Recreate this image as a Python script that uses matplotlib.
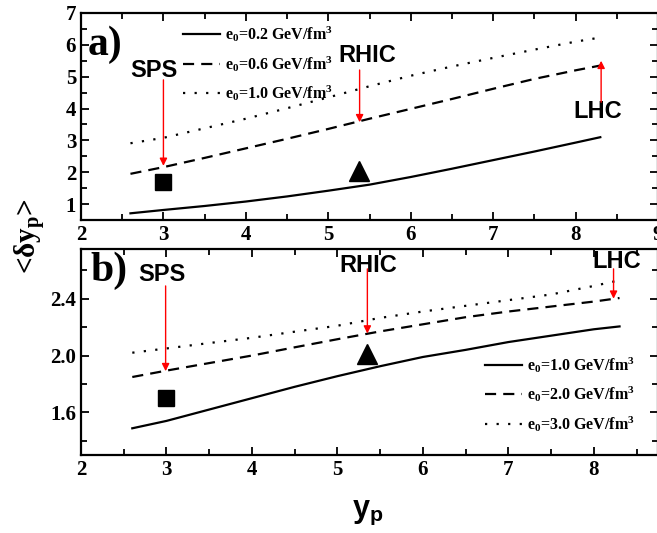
import matplotlib
matplotlib.use("Agg")
import matplotlib.pyplot as plt
from matplotlib.ticker import MultipleLocator, FormatStrFormatter

plt.rcParams['mathtext.fontset'] = 'custom'
plt.rcParams['mathtext.rm'] = 'Liberation Serif:bold'
plt.rcParams['mathtext.it'] = 'Liberation Serif:bold'
plt.rcParams['mathtext.bf'] = 'Liberation Serif:bold'
plt.rcParams['mathtext.sf'] = 'Liberation Sans:bold'

# ---------------- data: panel a ----------------
xa = [2.6, 3.0, 3.5, 4.0, 4.5, 5.0, 5.5, 6.0, 6.5, 7.0, 7.5, 8.0, 8.3]
a_e02 = [0.71, 0.815, 0.94, 1.08, 1.24, 1.42, 1.61, 1.85, 2.11, 2.38, 2.65, 2.93, 3.10]
a_e06 = [1.95, 2.16, 2.45, 2.75, 3.05, 3.36, 3.68, 3.99, 4.30, 4.62, 4.93, 5.20, 5.35]
a_e10 = [2.91, 3.08, 3.38, 3.68, 4.01, 4.35, 4.70, 5.03, 5.32, 5.59, 5.85, 6.10, 6.23]
a_labels = ['e$_\\mathrm{0}$=0.2 GeV/fm$^\\mathrm{3}$',
            'e$_\\mathrm{0}$=0.6 GeV/fm$^\\mathrm{3}$',
            'e$_\\mathrm{0}$=1.0 GeV/fm$^\\mathrm{3}$']
a_sq = (3.0, 1.70)
a_tri = (5.37, 2.03)

# ---------------- data: panel b ----------------
xb = [2.6, 3.0, 3.5, 4.0, 4.5, 5.0, 5.5, 6.0, 6.5, 7.0, 7.5, 8.0, 8.3]
b_e1 = [1.488, 1.54, 1.62, 1.70, 1.78, 1.855, 1.925, 1.99, 2.04, 2.095, 2.14, 2.185, 2.205]
b_e2 = [1.849, 1.894, 1.947, 2.0, 2.058, 2.115, 2.17, 2.22, 2.27, 2.31, 2.345, 2.38, 2.405]
b_e3 = [2.02, 2.05, 2.088, 2.125, 2.168, 2.21, 2.265, 2.31, 2.35, 2.39, 2.43, 2.49, 2.53]
b_labels = ['e$_\\mathrm{0}$=1.0 GeV/fm$^\\mathrm{3}$',
            'e$_\\mathrm{0}$=2.0 GeV/fm$^\\mathrm{3}$',
            'e$_\\mathrm{0}$=3.0 GeV/fm$^\\mathrm{3}$']
b_sq = (3.0, 1.70)
b_tri = (5.35, 2.01)

# annotations: (label, text x, text y, arrow x, arrow y0, arrow y1)
a_ann = [('SPS', 2.89, 5.20, 3.0, 4.9, 2.2),
         ('RHIC', 5.47, 5.67, 5.38, 5.21, 3.57),
         ('LHC', 8.27, 3.91, 8.31, 4.2, 5.5)]
b_ann = [('SPS', 2.95, 2.573, 2.99, 2.49, 1.89),
         ('RHIC', 5.36, 2.637, 5.35, 2.61, 2.155),
         ('LHC', 8.27, 2.665, 8.23, 2.61, 2.40)]

W, H = 657, 533
fig = plt.figure(figsize=(W / 100, H / 100), dpi=100)
axa = fig.add_axes([81 / W, 1 - 220 / H, 577 / W, 207 / H])
axb = fig.add_axes([81 / W, 1 - 455 / H, 577 / W, 206 / H])

lw = 1.6
dash = (0, (5, 3.2))
dot = (0, (1, 4.2))


def style(ax):
    for s in ax.spines.values():
        s.set_linewidth(1.6)
    ax.tick_params(which='both', direction='in', top=True, right=True,
                   width=1.3, labelsize=15)
    ax.tick_params(which='major', length=6)
    ax.tick_params(which='minor', length=4)


# ---------- panel a ----------
axa.plot(xa, a_e02, color='black', lw=lw, label=a_labels[0])
axa.plot(xa, a_e06, color='black', lw=lw, linestyle=dash, label=a_labels[1])
axa.plot(xa, a_e10, color='black', lw=lw, linestyle=dot, label=a_labels[2])
axa.plot([a_sq[0]], [a_sq[1]], 's', color='black', ms=11)
axa.plot([a_tri[0]], [a_tri[1]], '^', color='black', ms=14)
axa.set_xlim(2, 9)
axa.set_ylim(0.5, 7)
axa.xaxis.set_major_locator(MultipleLocator(1))
axa.xaxis.set_minor_locator(MultipleLocator(0.5))
axa.yaxis.set_major_locator(MultipleLocator(1))
axa.yaxis.set_minor_locator(MultipleLocator(0.5))
style(axa)
axa.text(2.29, 6.0, 'a)', fontfamily='Liberation Serif', fontweight='bold',
         fontsize=30, ha='center', va='center')
axa.legend(loc='upper left', bbox_to_anchor=(0.177, 0.945), frameon=False,
           handlelength=2.3, handletextpad=0.35, labelspacing=0.62,
           borderpad=0, borderaxespad=0,
           prop=dict(family='Liberation Serif', weight='bold', size=11.5))

# ---------- panel b ----------
axb.plot(xb, b_e1, color='black', lw=lw, label=b_labels[0])
axb.plot(xb, b_e2, color='black', lw=lw, linestyle=dash, label=b_labels[1])
axb.plot(xb, b_e3, color='black', lw=lw, linestyle=dot, label=b_labels[2])
axb.plot([b_sq[0]], [b_sq[1]], 's', color='black', ms=11)
axb.plot([b_tri[0]], [b_tri[1]], '^', color='black', ms=14)
axb.set_xlim(2, 8.75)
axb.set_ylim(1.3, 2.75)
axb.xaxis.set_major_locator(MultipleLocator(1))
axb.xaxis.set_minor_locator(MultipleLocator(0.5))
axb.yaxis.set_minor_locator(MultipleLocator(0.2))
axb.yaxis.set_major_formatter(FormatStrFormatter('%.1f'))
axb.set_yticks([1.6, 2.0, 2.4])
style(axb)
axb.text(2.33, 2.596, 'b)', fontfamily='Liberation Serif', fontweight='bold',
         fontsize=30, ha='center', va='center')
axb.legend(loc='upper left', bbox_to_anchor=(0.700, 0.485), frameon=False,
           handlelength=2.3, handletextpad=0.35, labelspacing=0.62,
           borderpad=0, borderaxespad=0,
           prop=dict(family='Liberation Serif', weight='bold', size=11.5))

for ax, anns in ((axa, a_ann), (axb, b_ann)):
    for lab, tx, ty, ax_x, y0, y1 in anns:
        ax.text(tx, ty, lab, fontfamily='Liberation Sans', fontweight='bold',
                fontsize=17, ha='center', va='center')
        ax.annotate('', xy=(ax_x, y1), xytext=(ax_x, y0),
                    arrowprops=dict(arrowstyle='-|>', color='red', lw=1.0,
                                    mutation_scale=11, shrinkA=0, shrinkB=0))

for ax in (axa, axb):
    for lab in ax.get_xticklabels() + ax.get_yticklabels():
        lab.set_fontfamily('Liberation Serif')
        lab.set_fontweight('bold')

fig.text(30 / W, 1 - 236 / H, '<δy$_\\mathrm{p}$>', rotation=90,
         fontfamily='Liberation Serif', fontweight='bold', fontsize=21,
         ha='center', va='center')
fig.text(368 / W, 1 - 512 / H, 'y$_\\mathsf{p}$', fontfamily='Liberation Sans',
         fontweight='bold', fontsize=22, ha='center', va='center')

fig.savefig('out.png', dpi=100)
